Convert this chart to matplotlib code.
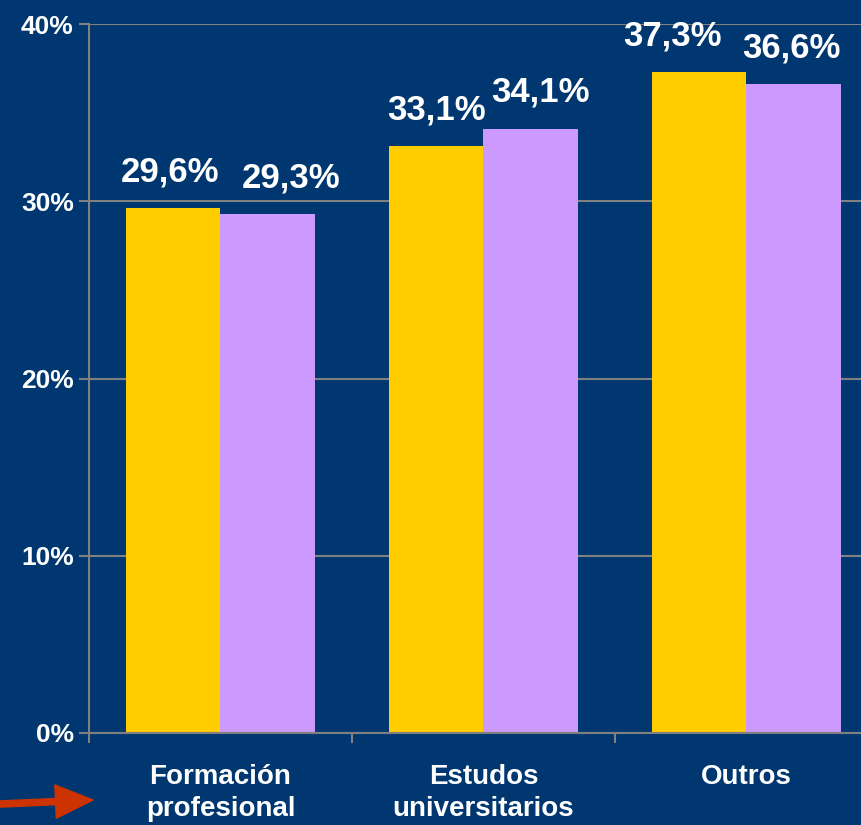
import matplotlib.pyplot as plt
from matplotlib.patches import FancyArrowPatch
import numpy as np

plt.rcParams['font.family'] = ['Liberation Sans', 'DejaVu Sans']

# data
categories = ['Formación\nprofesional', 'Estudos\nuniversitarios', 'Outros']
serie_a = [29.6, 33.1, 37.3]
serie_b = [29.3, 34.1, 36.6]
labels_a = ['29,6%', '33,1%', '37,3%']
labels_b = ['29,3%', '34,1%', '36,6%']
yticks = [0, 10, 20, 30, 40]
ytick_labels = ['0%', '10%', '20%', '30%', '40%']

bg = '#003770'
grey = '#808080'

fig = plt.figure(figsize=(8.62, 8.25), dpi=100, facecolor=bg)
ax = fig.add_axes([89 / 862, 92 / 825, 789 / 862, 709 / 825])
ax.set_facecolor(bg)

x = np.arange(len(categories))
w = 0.36
bars_a = ax.bar(x - w / 2, serie_a, w, color='#FFCC00', zorder=3)
bars_b = ax.bar(x + w / 2, serie_b, w, color='#CC99FF', zorder=3)

# value labels (shifted a bit sideways where they would collide)
shift_a = [-2, 0, -19]
shift_b = [17, 7, -2]
for bar, lab, dx in zip(bars_a, labels_a, shift_a):
    ax.annotate(lab, (bar.get_x() + bar.get_width() / 2, bar.get_height()),
                xytext=(dx, 26), textcoords='offset points', ha='center', va='center',
                color='white', fontsize=25, fontweight='bold')
for bar, lab, dx in zip(bars_b, labels_b, shift_b):
    ax.annotate(lab, (bar.get_x() + bar.get_width() / 2, bar.get_height()),
                xytext=(dx, 26), textcoords='offset points', ha='center', va='center',
                color='white', fontsize=25, fontweight='bold')

ax.set_xlim(-0.5, 2.5)
ax.set_ylim(0, 40)
ax.set_yticks(yticks)
ax.set_yticklabels(ytick_labels)
ax.set_xticks(x)
ax.set_xticklabels(categories, linespacing=1.3)
ax.set_xticks([-0.5, 0.5, 1.5], minor=True)
ax.tick_params(axis='x', which='major', length=0, pad=22, labelsize=20, labelcolor='white')
ax.tick_params(axis='x', which='minor', length=7, width=1.5, color=grey, direction='out')
ax.tick_params(axis='y', length=7, width=1.5, color=grey, pad=4, labelsize=19, labelcolor='white')
for lab in ax.get_xticklabels() + ax.get_yticklabels():
    lab.set_fontweight('bold')
for lab in ax.get_xticklabels():
    lab.set_va('top')

ax.grid(axis='y', color=grey, linewidth=1.5, zorder=0)
for side in ['top', 'right']:
    ax.spines[side].set_visible(False)
for side in ['left', 'bottom']:
    ax.spines[side].set_color(grey)
    ax.spines[side].set_linewidth(1.5)
ax.spines['bottom'].set_zorder(4)

# red arrow at bottom left
arrow = FancyArrowPatch((0, 21 / 825), (93 / 862, 25 / 825), transform=fig.transFigure,
                        arrowstyle='simple,head_length=0.9,head_width=0.8,tail_width=0.15',
                        mutation_scale=30, color='#CC3300', shrinkA=0, shrinkB=0)
fig.add_artist(arrow)

fig.savefig('out.png', dpi=100, facecolor=bg)
